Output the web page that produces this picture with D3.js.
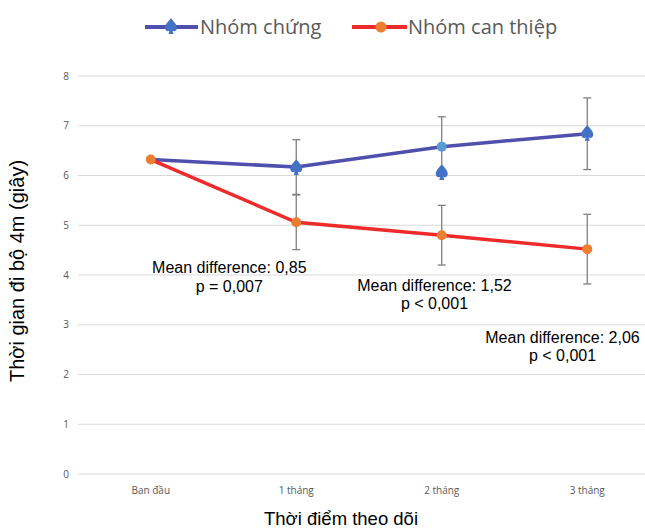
<!DOCTYPE html>
<html>
<head>
<meta charset="utf-8">
<script src="https://cdn.jsdelivr.net/npm/d3@7"></script>
<style>
  body { margin: 0; background: #fff; }
  svg { display: block; }
</style>
</head>
<body>
<div class="App"></div>
<script>
const categories = ['Ban đầu', '1 tháng', '2 tháng', '3 tháng']
const controlMean = [6.32, 6.17, 6.58, 6.84]
const controlErr = [0, 0.55, 0.60, 0.72]
const controlMarker = [null, 6.17, 6.07, 6.86]   // where the spade markers sit
const interventionMean = [6.32, 5.06, 4.80, 4.52]
const interventionErr = [0, 0.55, 0.60, 0.70]
const yTicks = [0, 1, 2, 3, 4, 5, 6, 7, 8]
const notes = [
  ['Mean difference: 0,85', 'p = 0,007'],
  ['Mean difference: 1,52', 'p < 0,001'],
  ['Mean difference: 2,06', 'p < 0,001']
]
const noteAt = [[0.54, 4.04], [1.95, 3.68], [2.83, 2.64]]  // [category position, value] of the first line

const w = 645, h = 530
const svg = d3.select('.App').append('svg').attr('width', w).attr('height', h)

const xScale = d3.scaleBand().domain(categories).range([78, 660])
const xPos = (i) => xScale(categories[0]) + xScale.bandwidth() * (i + 0.5)
const yScale = d3.scaleLinear().domain([0, 8]).range([474, 76])

// grid
svg.append('g').selectAll('line').data(yTicks).enter().append('line')
   .attr('x1', 78).attr('x2', w)
   .attr('y1', d => yScale(d)).attr('y2', d => yScale(d))
   .attr('stroke', '#d9d9d9').attr('stroke-width', 1)

svg.append('g').selectAll('text').data(yTicks).enter().append('text')
   .attr('x', 66).attr('y', d => yScale(d) + 3.5)
   .attr('text-anchor', 'middle')
   .style('font', '10px "Open Sans", sans-serif').style('fill', '#595959')
   .text(d => d)

svg.append('g').selectAll('text').data(categories).enter().append('text')
   .attr('x', d => xScale(d) + xScale.bandwidth() / 2).attr('y', 494)
   .attr('text-anchor', 'middle')
   .style('font', '10px "Open Sans", sans-serif').style('fill', '#595959')
   .text(d => d)

// axis titles
svg.append('text').attr('x', 341).attr('y', 525).attr('text-anchor', 'middle')
   .style('font', '18.5px "Liberation Sans", Arial, sans-serif').style('fill', '#000')
   .text('Thời điểm theo dõi')
svg.append('text').attr('transform', 'translate(24,271) rotate(-90)').attr('text-anchor', 'middle')
   .style('font', '20px "Liberation Sans", Arial, sans-serif').style('fill', '#000')
   .text('Thời gian đi bộ 4m (giây)')

// error bars
function errorBars(means, errs) {
  const g = svg.append('g').attr('stroke', '#7f7f7f').attr('stroke-width', 1.3)
  means.forEach((m, i) => {
    if (!errs[i]) return
    const x = xPos(i)
    g.append('line').attr('x1', x).attr('x2', x).attr('y1', yScale(m + errs[i])).attr('y2', yScale(m - errs[i]))
    g.append('line').attr('x1', x - 4).attr('x2', x + 4).attr('y1', yScale(m + errs[i])).attr('y2', yScale(m + errs[i]))
    g.append('line').attr('x1', x - 4).attr('x2', x + 4).attr('y1', yScale(m - errs[i])).attr('y2', yScale(m - errs[i]))
  })
}
errorBars(controlMean, controlErr)
errorBars(interventionMean, interventionErr)

const line = d3.line().x((d, i) => xPos(i)).y(d => yScale(d))

svg.append('path').datum(controlMean).attr('d', line)
   .attr('fill', 'none').attr('stroke', '#4f4fad').attr('stroke-width', 3.5)
svg.append('path').datum(interventionMean).attr('d', line)
   .attr('fill', 'none').attr('stroke', '#ee2a2a').attr('stroke-width', 3.5)

// spade shaped marker
const spade = 'M0,-8 C2,-5 6,-2 6,2 C6,5 3,6 1.5,4.5 L2.5,8 L-2.5,8 L-1.5,4.5 C-3,6 -6,5 -6,2 C-6,-2 -2,-5 0,-8 Z'

svg.append('circle').attr('cx', xPos(2)).attr('cy', yScale(controlMean[2])).attr('r', 5)
   .attr('fill', '#5b9bd5')

svg.append('g').selectAll('path').data(controlMarker).enter()
   .filter(d => d != null)
   .append('path').attr('d', spade)
   .attr('transform', d => 'translate(' + xPos(controlMarker.indexOf(d)) + ',' + yScale(d) + ')')
   .attr('fill', '#4472c4')

svg.append('g').selectAll('circle').data(interventionMean).enter().append('circle')
   .attr('cx', (d, i) => xPos(i)).attr('cy', d => yScale(d)).attr('r', 5)
   .attr('fill', '#ed7d31')

// notes
notes.forEach((n, i) => {
  const x = xPos(noteAt[i][0]), y = yScale(noteAt[i][1])
  svg.append('text').attr('x', x).attr('y', y).attr('text-anchor', 'middle')
     .style('font', '16px "Liberation Sans", Arial, sans-serif').style('fill', '#000').text(n[0])
  svg.append('text').attr('x', x).attr('y', y + 18.5).attr('text-anchor', 'middle')
     .style('font', '16px "Liberation Sans", Arial, sans-serif').style('fill', '#000').text(n[1])
})

// legend
const legend = svg.append('g')
legend.append('line').attr('x1', 145).attr('x2', 198).attr('y1', 27).attr('y2', 27)
      .attr('stroke', '#4f4fad').attr('stroke-width', 4)
legend.append('path').attr('d', spade).attr('transform', 'translate(171,26)').attr('fill', '#4472c4')
legend.append('text').attr('x', 200).attr('y', 34)
      .style('font', '20px "Open Sans", sans-serif').style('fill', '#595959').text('Nhóm chứng')
legend.append('line').attr('x1', 352).attr('x2', 407).attr('y1', 27).attr('y2', 27)
      .attr('stroke', '#ee2a2a').attr('stroke-width', 4)
legend.append('circle').attr('cx', 381).attr('cy', 27).attr('r', 5.5).attr('fill', '#ed7d31')
legend.append('text').attr('x', 408).attr('y', 34)
      .style('font', '20px "Open Sans", sans-serif').style('fill', '#595959').text('Nhóm can thiệp')
</script>
</body>
</html>
